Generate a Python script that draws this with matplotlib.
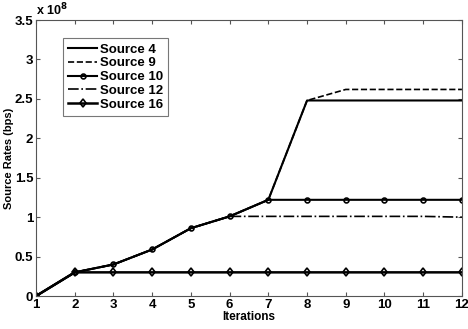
import numpy as np
import matplotlib.pyplot as plt
from matplotlib.ticker import FuncFormatter

plt.rcParams['font.family'] = ['Liberation Sans', 'DejaVu Sans']
plt.rcParams['font.weight'] = 'bold'

iters = np.arange(1, 13)
# source rates in bps
src4 = [0, 0.30e8, 0.40e8, 0.59e8, 0.86e8, 1.01e8, 1.22e8, 2.48e8, 2.48e8, 2.48e8, 2.48e8, 2.48e8]
src9 = [0, 0.30e8, 0.40e8, 0.59e8, 0.86e8, 1.01e8, 1.22e8, 2.48e8, 2.62e8, 2.62e8, 2.62e8, 2.62e8]
src10 = [0, 0.30e8, 0.40e8, 0.59e8, 0.86e8, 1.01e8, 1.22e8, 1.22e8, 1.22e8, 1.22e8, 1.22e8, 1.22e8]
src12 = [0, 0.30e8, 0.40e8, 0.59e8, 0.86e8, 1.01e8, 1.01e8, 1.01e8, 1.01e8, 1.01e8, 1.01e8, 1.00e8]
src16 = [0, 0.30e8, 0.30e8, 0.30e8, 0.30e8, 0.30e8, 0.30e8, 0.30e8, 0.30e8, 0.30e8, 0.30e8, 0.30e8]

fig = plt.figure(figsize=(4.68, 3.29), dpi=100)
ax = fig.add_axes([0.077, 0.1003, 0.910, 0.8387])

ax.plot(iters, src4, '-', color='black', lw=1.5, label='Source 4')
ax.plot(iters, src9, '--', color='black', lw=1.2, label='Source 9')
ax.plot(iters, src10, '-', color='black', lw=1.5, marker='o', ms=3.5,
        mfc='none', mew=1.2, label='Source 10')
ax.plot(iters, src12, '-.', color='black', lw=1.2, label='Source 12')
ax.plot(iters, src16, '-', color='black', lw=1.8, marker='d', ms=4.5,
        mfc='none', mew=1.2, label='Source 16')

ax.set_xlim(1, 12)
ax.set_ylim(0, 3.5e8)
ax.set_xticks(iters)
ax.set_yticks(np.arange(0, 3.51e8, 0.5e8))
ax.yaxis.set_major_formatter(FuncFormatter(lambda v, p: '%g' % (v / 1e8)))
ax.tick_params(direction='in', top=True, right=True, labelsize=9.5, length=3,
               color='#555555', pad=2)
for s in ax.spines.values():
    s.set_color('#555555')
    s.set_linewidth(0.8)

ax.set_xlabel('Iterations', fontsize=8.5, fontweight='bold', labelpad=0)
ax.set_ylabel('Source Rates (bps)', fontsize=8, fontweight='bold')
ax.yaxis.set_label_coords(-0.052, 0.5)
ax.text(0.0, 1.005, 'x 10$^{8}$', transform=ax.transAxes, fontsize=9,
        fontweight='bold', ha='left', va='bottom')

leg = ax.legend(loc='upper left', bbox_to_anchor=(0.063, 0.935), fontsize=9.5,
                frameon=True, fancybox=False, handlelength=2.2,
                labelspacing=0.12, borderpad=0.4, handletextpad=0.2,
                borderaxespad=0)
leg.get_frame().set_edgecolor('#555555')
leg.get_frame().set_linewidth(0.8)

fig.savefig('out.png', dpi=100)
